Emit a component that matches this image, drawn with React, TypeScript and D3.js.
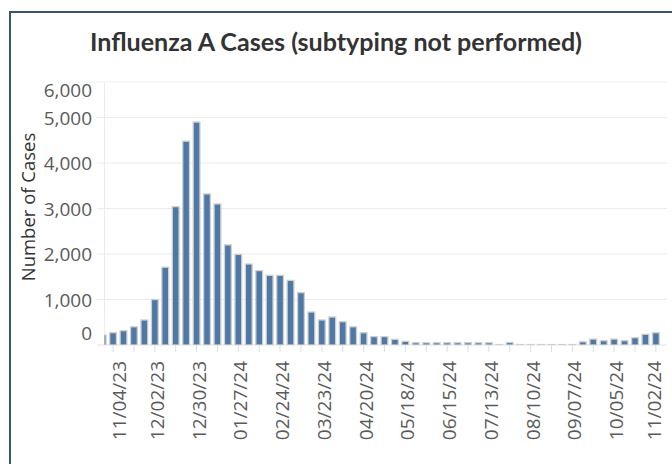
import React from "react";
import * as d3 from "d3";

// weekly counts, week ending dates
const weeks = [
  "10/28/23", "11/04/23", "11/11/23", "11/18/23", "11/25/23", "12/02/23", "12/09/23", "12/16/23",
  "12/23/23", "12/30/23", "01/06/24", "01/13/24", "01/20/24", "01/27/24", "02/03/24", "02/10/24",
  "02/17/24", "02/24/24", "03/02/24", "03/09/24", "03/16/24", "03/23/24", "03/30/24", "04/06/24",
  "04/13/24", "04/20/24", "04/27/24", "05/04/24", "05/11/24", "05/18/24", "05/25/24", "06/01/24",
  "06/08/24", "06/15/24", "06/22/24", "06/29/24", "07/06/24", "07/13/24", "07/20/24", "07/27/24",
  "08/03/24", "08/10/24", "08/17/24", "08/24/24", "08/31/24", "09/07/24", "09/14/24", "09/21/24",
  "09/28/24", "10/05/24", "10/12/24", "10/19/24", "10/26/24", "11/02/24"
];

const cases = [
  220, 270, 315, 400, 550, 1000, 1710, 3040,
  4480, 4900, 3320, 3100, 2200, 1990, 1780, 1635,
  1530, 1530, 1420, 1150, 725, 550, 615, 512,
  400, 270, 185, 185, 125, 80, 50, 50,
  50, 50, 50, 50, 50, 50, 10, 55,
  10, 10, 10, 10, 10, 10, 70, 130,
  95, 130, 95, 160, 235, 270
];

const tickLabels = [
  "11/04/23", "12/02/23", "12/30/23", "01/27/24", "02/24/24", "03/23/24", "04/20/24",
  "05/18/24", "06/15/24", "07/13/24", "08/10/24", "09/07/24", "10/05/24", "11/02/24"
];

const yTicks = [0, 1000, 2000, 3000, 4000, 5000, 6000];

const W = 672;
const H = 464;
const paneTop = 82;
const base = 345;
const gridLeft = 97;
const axisX = 104.5;
const right = 667;

const font = "'Open Sans', sans-serif";

export default function App() {
  const x = d3.scaleBand<string>()
    .domain(weeks)
    .range([97.4, 661.1])
    .paddingInner(0.35)
    .paddingOuter(0.175);

  const y = d3.scaleLinear().domain([0, 5000]).range([base, 117.5]);
  const fmt = d3.format(",");

  // tick marks every 2 weeks, starting at 11/04/23
  const tickWeeks = weeks.filter((_, i) => i % 2 === 1);
  const cx = (w: string) => (x(w) ?? 0) + x.bandwidth() / 2;

  return (
    <div style={{ position: "absolute", left: 0, top: 0, width: W, height: H, background: "#fff" }}>
      <svg width={W} height={H} style={{ display: "block" }}>
        <defs>
          <clipPath id="pane">
            <rect x={axisX} y={0} width={right - axisX} height={base} />
          </clipPath>
        </defs>

        {/* outer frame */}
        <rect x={10} y={12} width={W + 20} height={H + 20} fill="none" stroke="#3a5375" strokeWidth={2} />

        <text x={336} y={51} textAnchor="middle" fontFamily="Lato, sans-serif" fontWeight={700}
          fontSize={24} fill="#333" textLength={492} lengthAdjust="spacingAndGlyphs">
          Influenza A Cases (subtyping not performed)
        </text>

        {/* pane top line */}
        <line x1={75} x2={right} y1={paneTop} y2={paneTop} stroke="#f0f0f0" />

        {/* gridlines */}
        {yTicks.filter(t => t > 0 && y(t) > paneTop).map(t => (
          <line key={t} x1={gridLeft} x2={right} y1={y(t)} y2={y(t)} stroke="#ececec" strokeWidth={1.2} />
        ))}
        <line x1={axisX} x2={axisX} y1={paneTop} y2={base} stroke="#ececec" />
        <line x1={gridLeft} x2={right} y1={base} y2={base} stroke="#e2e2e2" />

        {/* y labels, edge labels pushed inside the pane like Tableau */}
        {yTicks.map(t => {
          const yy = Math.min(Math.max(y(t), paneTop + 8), base - 12);
          return (
            <text key={t} x={92} y={yy} textAnchor="end" dominantBaseline="central"
              fontFamily={font} fontSize={19} fill="#5a5a5a">
              {fmt(t)}
            </text>
          );
        })}

        <text transform={`translate(35,207) rotate(-90)`} textAnchor="middle"
          fontFamily={font} fontSize={18.5} fill="#333">
          Number of Cases
        </text>

        {/* bars */}
        <g clipPath="url(#pane)">
          {weeks.map((w, i) => (
            <rect key={w} x={x(w)} y={y(cases[i])} width={x.bandwidth()} height={base - y(cases[i])}
              fill="#4e79a7" stroke="#cfcfcf" strokeWidth={1.3} />
          ))}
        </g>

        {/* x ticks */}
        {tickWeeks.map(w => (
          <line key={w} x1={cx(w)} x2={cx(w)} y1={base} y2={base + 7} stroke="#dedede" />
        ))}
        {tickLabels.map(w => {
          const xx = Math.min(Math.max(cx(w) + 2, 119.3), 654);
          return (
            <text key={w} transform={`translate(${xx},361) rotate(-90)`} textAnchor="end"
              dominantBaseline="central" fontFamily={font} fontSize={19} fill="#5a5a5a">
              {w}
            </text>
          );
        })}
      </svg>
    </div>
  );
}
